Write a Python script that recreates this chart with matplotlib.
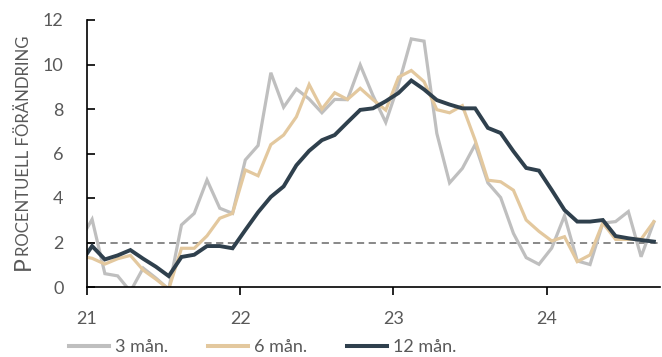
import numpy as np
import matplotlib
matplotlib.use("Agg")
import matplotlib.pyplot as plt

plt.rcParams['font.family'] = ['Lato', 'DejaVu Sans']

# Monthly series (index -1 = Dec 2020, partly outside the axis, 0 = Jan 2021 ... 44 = Sep 2024)
month_index = np.arange(-1, 45)
series_3m = [2.05, 3.04, 0.6, 0.5, -0.2, 0.85, 0.4, -0.1, 2.79, 3.31, 4.81, 3.54, 3.31,
             5.71, 6.36, 9.63, 8.08, 8.9, 8.45, 7.83, 8.43, 8.42, 9.98, 8.6, 7.4, 9.1,
             11.15, 11.05, 6.9, 4.68, 5.33, 6.4, 4.68, 4.02, 2.41, 1.32, 1.02, 1.75, 3.2,
             1.17, 1.01, 2.87, 2.94, 3.39, 1.36, 2.92]
series_6m = [1.4, 1.29, 1.03, 1.27, 1.42, 0.76, 0.35, -0.1, 1.74, 1.74, 2.3, 3.09, 3.31,
             5.26, 5.0, 6.4, 6.83, 7.65, 9.1, 8.0, 8.73, 8.43, 8.93, 8.42, 7.95, 9.43,
             9.73, 9.23, 7.97, 7.83, 8.15, 6.6, 4.8, 4.73, 4.35, 3.01, 2.5, 2.07, 2.26,
             1.14, 1.44, 2.88, 2.14, 2.14, 2.15, 2.94]
series_12m = [1.0, 1.84, 1.24, 1.42, 1.66, 1.27, 0.91, 0.49, 1.35, 1.45, 1.84, 1.84, 1.74,
              2.56, 3.36, 4.05, 4.52, 5.47, 6.12, 6.6, 6.83, 7.4, 7.96, 8.03, 8.35, 8.72,
              9.28, 8.88, 8.4, 8.2, 8.03, 8.03, 7.15, 6.92, 6.1, 5.35, 5.23, 4.36, 3.46,
              2.94, 2.94, 3.01, 2.29, 2.19, 2.11, 2.04]
labels = ['3 mån.', '6 mån.', '12 mån.']
target = 2
year_ticks = [21, 22, 23, 24]
year_labels = ['21', '22', '23', '24']
yticks = [0, 2, 4, 6, 8, 10, 12]

x = 21 + (month_index + 0.4) / 12.0

W, H = 662, 357
fig = plt.figure(figsize=(W / 100, H / 100), dpi=100)
ax = fig.add_axes([87 / W, 1 - 287 / H, (660 - 87) / W, (287 - 20) / H])

colors = ['#BFBFBF', '#E3C89E', '#2F404D']
lws = [2.3, 2.3, 2.8]
ax.axhline(target, color='#7F7F7F', lw=1.3, ls=(0, (4, 2.5)), zorder=1)
for s, c, lw, lab in zip([series_3m, series_6m, series_12m], colors, lws, labels):
    ax.plot(x, s, color=c, lw=lw, label=lab, solid_joinstyle='miter', zorder=2)

ax.set_xlim(21, 24.74)
ax.set_ylim(0, 12)
ax.set_xticks(year_ticks)
ax.set_xticklabels(year_labels)
ax.set_yticks(yticks)
for side in ['top', 'right']:
    ax.spines[side].set_visible(False)
for side in ['left', 'bottom']:
    ax.spines[side].set_linewidth(1.2)
    ax.spines[side].set_color('black')
ax.tick_params(axis='x', direction='out', length=5.5, width=1.2, pad=12,
               labelsize=13, labelcolor='#595959')
ax.tick_params(axis='y', direction='in', length=5.5, width=1.2, pad=17,
               labelsize=13, labelcolor='#595959')

leg = fig.legend(loc='center left', bbox_to_anchor=(69 / W, 1 - 347 / H), ncol=3,
                 frameon=False, fontsize=13, handlelength=2.2, handletextpad=0.35,
                 columnspacing=2.2, borderpad=0, borderaxespad=0)
for t in leg.get_texts():
    t.set_color('#595959')
for h in leg.get_lines():
    h.set_linewidth(2.9)

# small-caps style y label
fig.canvas.draw()
r = fig.canvas.get_renderer()
bx = 29.5 / W
y0 = 1 - 270 / H
tp = fig.text(bx, y0, 'P', rotation=90, rotation_mode='anchor', ha='left',
              va='baseline', fontsize=16.5, color='#595959')
bb = tp.get_window_extent(r)
tr = fig.text(bx, (bb.y1 + 0.5) / (H), 'ROCENTUELL FÖRÄNDRING', rotation=90,
              rotation_mode='anchor', ha='left', va='baseline', fontsize=12.1,
              color='#595959')

fig.savefig('out.png', dpi=100)
